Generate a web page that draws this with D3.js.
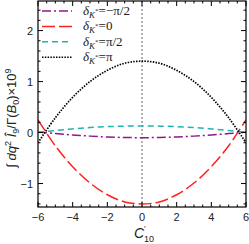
<!DOCTYPE html>
<html lang="en">
<head>
<meta charset="UTF-8">
<title>C10 prime scan</title>
<script src="https://d3js.org/d3.v7.min.js"></script>
<style>
  body { margin: 0; background: #fff; }
</style>
</head>
<body>
<script type="text/javascript">
// values, at C'10 = -6 .. 6
var xs = [-6, -5, -4, -3, -2, -1, 0, 1, 2, 3, 4, 5, 6];
var minusHalfPi = [0.01, -0.02, -0.047, -0.07, -0.087, -0.097, -0.1, -0.097, -0.087, -0.07, -0.047, -0.02, 0.01];
var zeroPhase   = [0.25, -0.26, -0.67, -0.99, -1.22, -1.36, -1.4, -1.36, -1.22, -0.99, -0.67, -0.26, 0.25];
var plusHalfPi  = [0.005, 0.04, 0.072, 0.098, 0.116, 0.126, 0.13, 0.126, 0.116, 0.098, 0.072, 0.04, 0.005];
var piPhase     = [-0.2, 0.29, 0.69, 1.0, 1.22, 1.36, 1.4, 1.36, 1.22, 1.0, 0.69, 0.29, -0.2];
var legendLabels = ["=\u2212\u03c0/2", "=0", "=\u03c0/2", "=\u03c0"];
var xTicks = [-6, -4, -2, 0, 2, 4, 6];
var yTicks = [-1, 0, 1, 2];

var width = 249, height = 244;
var pl = 38, pr = 246, pt = 1, pb = 207;
var sans = "'Liberation Sans', Arial, sans-serif";
var serif = "'Liberation Serif', 'Times New Roman', serif";

var series = [
  {vals: minusHalfPi, color: "#8b1a8b", dash: "9,3,2,3"},
  {vals: zeroPhase,   color: "#ff2020", dash: "13,4"},
  {vals: plusHalfPi,  color: "#1fb3b3", dash: "6,4"},
  {vals: piPhase,     color: "#000", dash: "1.5,1.3"}
];

var x = d3.scaleLinear().domain([-6, 6]).range([pl, pr]);
var y = d3.scaleLinear().domain([-1.46, 2.58]).range([pb, pt]);

var svg = d3.select("body").append("svg")
  .attr("width", width).attr("height", height);

svg.append("defs").append("clipPath").attr("id", "clip")
  .append("rect").attr("x", pl).attr("y", pt)
  .attr("width", pr - pl).attr("height", pb - pt);

// vertical reference at 0
svg.append("line")
  .attr("x1", x(0)).attr("x2", x(0)).attr("y1", pt).attr("y2", pb)
  .attr("stroke", "#666").attr("stroke-width", 1).attr("stroke-dasharray", "2,2");

var line = d3.line()
  .x(function(d){ return x(d[0]); })
  .y(function(d){ return y(d[1]); })
  .curve(d3.curveCatmullRom);

var g = svg.append("g").attr("clip-path", "url(#clip)");
series.forEach(function(s){
  g.append("path")
    .datum(xs.map(function(v, i){ return [v, s.vals[i]]; }))
    .attr("d", line)
    .attr("fill", "none")
    .attr("stroke", s.color)
    .attr("stroke-width", s.color == "#000" ? 1.7 : 1.5)
    .attr("stroke-dasharray", s.dash);
});

// frame ticks, mirrored on every side
var ax = svg.append("g").attr("stroke", "#000").attr("stroke-width", 1);
d3.range(-6, 6.01, 0.5).forEach(function(v){
  var major = Math.abs(v % 2) < 1e-6;
  var len = major ? 5 : 2.5;
  ax.append("line").attr("x1", x(v)).attr("x2", x(v)).attr("y1", pb).attr("y2", pb - len);
  ax.append("line").attr("x1", x(v)).attr("x2", x(v)).attr("y1", pt).attr("y2", pt + len);
});
d3.range(-1.4, 2.6, 0.2).forEach(function(v){
  var major = Math.abs(v - Math.round(v)) < 1e-6;
  var len = major ? 5 : 2.5;
  ax.append("line").attr("x1", pl).attr("x2", pl + len).attr("y1", y(v)).attr("y2", y(v));
  ax.append("line").attr("x1", pr).attr("x2", pr - len).attr("y1", y(v)).attr("y2", y(v));
});
svg.append("rect").attr("x", pl).attr("y", pt)
  .attr("width", pr - pl).attr("height", pb - pt)
  .attr("fill", "none").attr("stroke", "#000").attr("stroke-width", 1.2);

svg.selectAll(".xt").data(xTicks).enter().append("text")
  .attr("x", function(d){ return x(d); }).attr("y", 221)
  .attr("text-anchor", "middle").style("font-family", sans).attr("font-size", 11).attr("fill", "#222")
  .text(function(d){ return d < 0 ? "\u2212" + (-d) : d; });

svg.selectAll(".yt").data(yTicks).enter().append("text")
  .attr("x", 33).attr("y", function(d){ return y(d) + 4; })
  .attr("text-anchor", "end").style("font-family", sans).attr("font-size", 11).attr("fill", "#222")
  .text(function(d){ return d < 0 ? "\u2212" + (-d) : d; });

// x label C'10
svg.append("text").attr("x", 144).attr("y", 238)
  .attr("text-anchor", "end").style("font-family", sans).attr("font-size", 14)
  .attr("font-style", "italic").attr("fill", "#222").text("C");
svg.append("text").attr("x", 144).attr("y", 231)
  .style("font-family", sans).attr("font-size", 8).attr("fill", "#222").text("\u2032");
svg.append("text").attr("x", 144).attr("y", 242)
  .style("font-family", sans).attr("font-size", 9).attr("fill", "#222").text("10");

// y label
var yl = svg.append("text")
  .attr("transform", "translate(16,118) rotate(-90)")
  .attr("text-anchor", "middle").style("font-family", sans).attr("font-size", 13).attr("fill", "#222");
yl.append("tspan").text("\u222b ");
yl.append("tspan").attr("font-style", "italic").text("dq");
yl.append("tspan").attr("font-size", 9).attr("dy", -5).text("2");
yl.append("tspan").attr("font-style", "italic").attr("dy", 5).text(" \u00ce");
yl.append("tspan").attr("font-size", 9).attr("dy", 3).text("9");
yl.append("tspan").attr("dy", -3).text("/\u0393(");
yl.append("tspan").attr("font-style", "italic").text("B");
yl.append("tspan").attr("font-size", 9).attr("dy", 3).text("0");
yl.append("tspan").attr("dy", -3).text(")\u00d710");
yl.append("tspan").attr("font-size", 9).attr("dy", -5).text("9");

// legend
var leg = svg.append("g");
series.forEach(function(s, i){
  var yy = 11 + i * 15.4;
  leg.append("line").attr("x1", 42).attr("x2", 72).attr("y1", yy).attr("y2", yy)
    .attr("stroke", s.color).attr("stroke-width", 1.5).attr("stroke-dasharray", s.dash);
  var t = leg.append("text").attr("x", 83).attr("y", yy + 4)
    .style("font-family", serif).attr("font-size", 13).attr("fill", "#222");
  t.append("tspan").attr("font-style", "italic").text("\u03b4");
  t.append("tspan").attr("font-style", "italic").attr("font-size", 9).attr("dy", 3).text("K");
  t.append("tspan").attr("font-size", 7).attr("dy", -5).text("*");
  t.append("tspan").attr("dy", 2).text(legendLabels[i]);
});
</script>
</body>
</html>
